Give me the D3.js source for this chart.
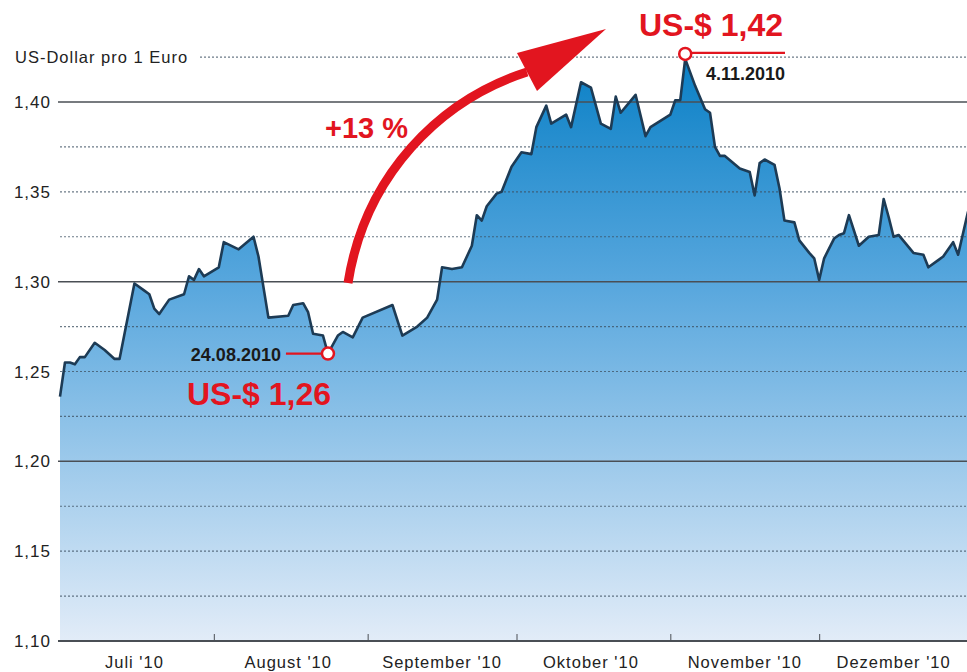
<!DOCTYPE html>
<html>
<head>
<meta charset="utf-8">
<script src="https://cdn.jsdelivr.net/npm/d3@7"></script>
<style>
  html, body { margin: 0; padding: 0; background: #fff; }
  svg text { font-family: "Liberation Sans", Arial, Helvetica, sans-serif; }
</style>
</head>
<body>
<div id="chart"></div>
<script>
// Wechselkurs US-Dollar pro 1 Euro, Juli - Dezember 2010
let dates = [
    "2010-07-01","2010-07-02","2010-07-03","2010-07-04","2010-07-05","2010-07-06","2010-07-08","2010-07-10","2010-07-12","2010-07-13","2010-07-16",
    "2010-07-18","2010-07-19","2010-07-20","2010-07-21","2010-07-23","2010-07-26","2010-07-27","2010-07-28","2010-07-29","2010-07-30",
    "2010-08-02","2010-08-03","2010-08-06","2010-08-09","2010-08-10","2010-08-12","2010-08-16","2010-08-17","2010-08-19","2010-08-20",
    "2010-08-21","2010-08-23","2010-08-24","2010-08-26","2010-08-27","2010-08-29","2010-08-31",
    "2010-09-06","2010-09-08","2010-09-11","2010-09-13","2010-09-15","2010-09-16","2010-09-18","2010-09-20","2010-09-22","2010-09-23",
    "2010-09-24","2010-09-25","2010-09-27","2010-09-28","2010-09-30",
    "2010-10-02","2010-10-04","2010-10-05","2010-10-07","2010-10-08","2010-10-11","2010-10-12","2010-10-14","2010-10-16","2010-10-18",
    "2010-10-20","2010-10-21","2010-10-22","2010-10-25","2010-10-27","2010-10-28",
    "2010-11-01","2010-11-02","2010-11-03","2010-11-04","2010-11-06","2010-11-08","2010-11-09","2010-11-10","2010-11-11","2010-11-12",
    "2010-11-15","2010-11-17","2010-11-18","2010-11-19","2010-11-20","2010-11-22","2010-11-23","2010-11-24","2010-11-26","2010-11-27",
    "2010-11-29","2010-11-30",
    "2010-12-01","2010-12-02","2010-12-04","2010-12-05","2010-12-06","2010-12-07","2010-12-09","2010-12-11","2010-12-13","2010-12-14",
    "2010-12-15","2010-12-16","2010-12-17","2010-12-20","2010-12-22","2010-12-23","2010-12-25","2010-12-26","2010-12-28","2010-12-29","2010-12-31"
];
let rates = [
    1.236,1.255,1.255,1.254,1.258,1.258,1.266,1.262,1.257,1.257,1.299,
    1.295,1.293,1.285,1.282,1.290,1.293,1.303,1.301,1.307,1.303,
    1.308,1.322,1.318,1.325,1.314,1.280,1.281,1.287,1.288,1.283,
    1.271,1.270,1.260,1.270,1.272,1.269,1.280,
    1.287,1.270,1.275,1.280,1.290,1.308,1.307,1.308,1.320,1.337,
    1.334,1.342,1.349,1.350,1.364,
    1.372,1.371,1.386,1.398,1.388,1.393,1.386,1.411,1.408,1.388,
    1.385,1.403,1.394,1.404,1.381,1.386,
    1.393,1.401,1.401,1.424,1.409,1.396,1.394,1.375,1.370,1.370,
    1.363,1.361,1.348,1.366,1.368,1.365,1.352,1.334,1.333,1.323,
    1.316,1.313,
    1.301,1.313,1.324,1.326,1.327,1.337,1.320,1.325,1.326,1.346,
    1.336,1.325,1.326,1.316,1.315,1.308,1.312,1.314,1.322,1.315,1.339
];
let month_starts = ["2010-07-01","2010-08-01","2010-09-01","2010-10-01","2010-11-01","2010-12-01"];
let month_labels = ["Juli '10","August '10","September '10","Oktober '10","November '10","Dezember '10"];
let y_ticks = [1.10, 1.15, 1.20, 1.25, 1.30, 1.35, 1.40];
let solid_ticks = [1.10, 1.20, 1.30, 1.40];
let dotted_ticks = [1.125, 1.15, 1.175, 1.225, 1.25, 1.275, 1.325, 1.35, 1.375];
let unit_label = "US-Dollar pro 1 Euro";
let low_point = {date: "2010-08-24", value: 1.26, label: "US-$ 1,26", date_label: "24.08.2010"};
let high_point = {date: "2010-11-04", value: 1.424, label: "US-$ 1,42", date_label: "4.11.2010"};
let change_label = "+13 %";

let width = 967, height = 672;
let red = "#e2151f";
let parse = d3.timeParse("%Y-%m-%d");
let data = dates.map(function(d, i) { return {date: parse(d), value: rates[i]}; });

let svg = d3.select("#chart").append("svg")
    .attr("width", width)
    .attr("height", height)
    .style("display", "block");

let x = d3.scaleTime()
    .domain([parse("2010-07-01"), parse("2011-01-01")])
    .range([60, 973]);
let y = d3.scaleLinear()
    .domain([1.10, 1.40])
    .range([641, 102]);

let de = d3.formatLocale({decimal: ",", thousands: ".", grouping: [3], currency: ["", " €"]});
let fmt = de.format(".2f");

// gradient fill
let defs = svg.append("defs");
let grad = defs.append("linearGradient")
    .attr("id", "fill_grad")
    .attr("gradientUnits", "userSpaceOnUse")
    .attr("x1", 0).attr("x2", 0)
    .attr("y1", y(1.425)).attr("y2", y(1.10));
grad.append("stop").attr("offset", "0%").attr("stop-color", "#0a80c6");
grad.append("stop").attr("offset", "40%").attr("stop-color", "#5aa8de");
grad.append("stop").attr("offset", "100%").attr("stop-color", "#e2ecf8");

let area = d3.area()
    .x(function(d) { return x(d.date); })
    .y0(y(1.10))
    .y1(function(d) { return y(d.value); });
let line = d3.line()
    .x(function(d) { return x(d.date); })
    .y(function(d) { return y(d.value); });

svg.append("path")
    .datum(data)
    .attr("d", area)
    .attr("fill", "url(#fill_grad)");

// grid lines
svg.selectAll(".grid-dot")
    .data(dotted_ticks)
    .enter().append("line")
    .attr("class", "grid-dot")
    .attr("x1", 60).attr("x2", width)
    .attr("y1", function(d) { return y(d); })
    .attr("y2", function(d) { return y(d); })
    .style("stroke", "#3d4f60")
    .style("stroke-width", 1.2)
    .style("stroke-dasharray", "2,2")
    .style("opacity", 0.75);

svg.append("line")
    .attr("x1", 200).attr("x2", width)
    .attr("y1", y(1.425)).attr("y2", y(1.425))
    .style("stroke", "#3d4f60")
    .style("stroke-width", 1.2)
    .style("stroke-dasharray", "2,2")
    .style("opacity", 0.75);

svg.selectAll(".grid-solid")
    .data(solid_ticks.filter(function(d) { return d > 1.10; }))
    .enter().append("line")
    .attr("class", "grid-solid")
    .attr("x1", 58).attr("x2", width)
    .attr("y1", function(d) { return y(d); })
    .attr("y2", function(d) { return y(d); })
    .style("stroke", "#4a4f55")
    .style("stroke-width", 1.5);

svg.append("path")
    .datum(data)
    .attr("d", line)
    .attr("fill", "none")
    .style("stroke", "#1d3b55")
    .style("stroke-width", 2.6)
    .style("stroke-linejoin", "round");

// x axis: ticks at month boundaries, labels mid-month
let x_axis = svg.append("g")
    .attr("transform", "translate(0," + y(1.10) + ")")
    .call(d3.axisBottom(x)
        .tickValues(month_starts.slice(1).map(parse))
        .tickSize(-7)
        .tickSizeOuter(0)
        .tickFormat(""));
x_axis.select(".domain").attr("d", "M58,0H" + width).style("stroke", "#4a4f55").style("stroke-width", 2.2);
x_axis.selectAll(".tick line").style("stroke", "#4a4f55").style("stroke-width", 1);

svg.selectAll(".month-label")
    .data(month_starts)
    .enter().append("text")
    .attr("class", "month-label")
    .attr("x", function(d) { return x(d3.timeDay.offset(parse(d), 15)); })
    .attr("y", 668)
    .attr("text-anchor", "middle")
    .style("font-size", "16.5px")
    .style("letter-spacing", "1px")
    .style("fill", "#222")
    .text(function(d, i) { return month_labels[i]; });

// y labels
svg.selectAll(".y-label")
    .data(y_ticks)
    .enter().append("text")
    .attr("class", "y-label")
    .attr("x", 51)
    .attr("y", function(d) { return y(d); })
    .attr("dy", "0.36em")
    .attr("text-anchor", "end")
    .style("font-size", "17px")
    .style("letter-spacing", "1px")
    .style("fill", "#222")
    .text(function(d) { return fmt(d); });

svg.append("text")
    .attr("x", 15)
    .attr("y", y(1.425))
    .attr("dy", "0.36em")
    .style("font-size", "16.5px")
    .style("letter-spacing", "1px")
    .style("fill", "#222")
    .text(unit_label);

// arrow +13 %
svg.append("path")
    .attr("d", "M348,283 C365,175 440,100 527,72")
    .attr("fill", "none")
    .style("stroke", red)
    .style("stroke-width", 9);
svg.append("path")
    .attr("d", "M537,91 L517,53 L606,29 Z")
    .attr("fill", red);
svg.append("text")
    .attr("x", 325)
    .attr("y", 138)
    .style("font-size", "29px")
    .style("font-weight", "bold")
    .style("fill", red)
    .text(change_label);

// low point annotation
let lx = x(parse(low_point.date)), ly = y(low_point.value);
svg.append("line")
    .attr("x1", lx - 42).attr("x2", lx - 5)
    .attr("y1", ly).attr("y2", ly)
    .style("stroke", red).style("stroke-width", 2.2);
svg.append("circle")
    .attr("cx", lx).attr("cy", ly).attr("r", 6)
    .attr("fill", "#fff")
    .style("stroke", red).style("stroke-width", 2.5);
svg.append("text")
    .attr("x", lx - 47).attr("y", ly + 7)
    .attr("text-anchor", "end")
    .style("font-size", "18px")
    .style("font-weight", "bold")
    .style("fill", "#1a1a1a")
    .text(low_point.date_label);
svg.append("text")
    .attr("x", 187).attr("y", 405)
    .style("font-size", "32px")
    .style("font-weight", "bold")
    .style("fill", red)
    .text(low_point.label);

// high point annotation
let hx = x(parse(high_point.date)), hy = y(high_point.value) - 5;
svg.append("line")
    .attr("x1", hx + 5).attr("x2", 785)
    .attr("y1", hy - 1).attr("y2", hy - 1)
    .style("stroke", red).style("stroke-width", 2.2);
svg.append("circle")
    .attr("cx", hx).attr("cy", hy).attr("r", 6)
    .attr("fill", "#fff")
    .style("stroke", red).style("stroke-width", 2.5);
svg.append("text")
    .attr("x", 785).attr("y", 80)
    .attr("text-anchor", "end")
    .style("font-size", "18px")
    .style("font-weight", "bold")
    .style("fill", "#1a1a1a")
    .text(high_point.date_label);
svg.append("text")
    .attr("x", 639).attr("y", 36)
    .style("font-size", "32px")
    .style("font-weight", "bold")
    .style("fill", red)
    .text(high_point.label);
</script>
</body>
</html>
